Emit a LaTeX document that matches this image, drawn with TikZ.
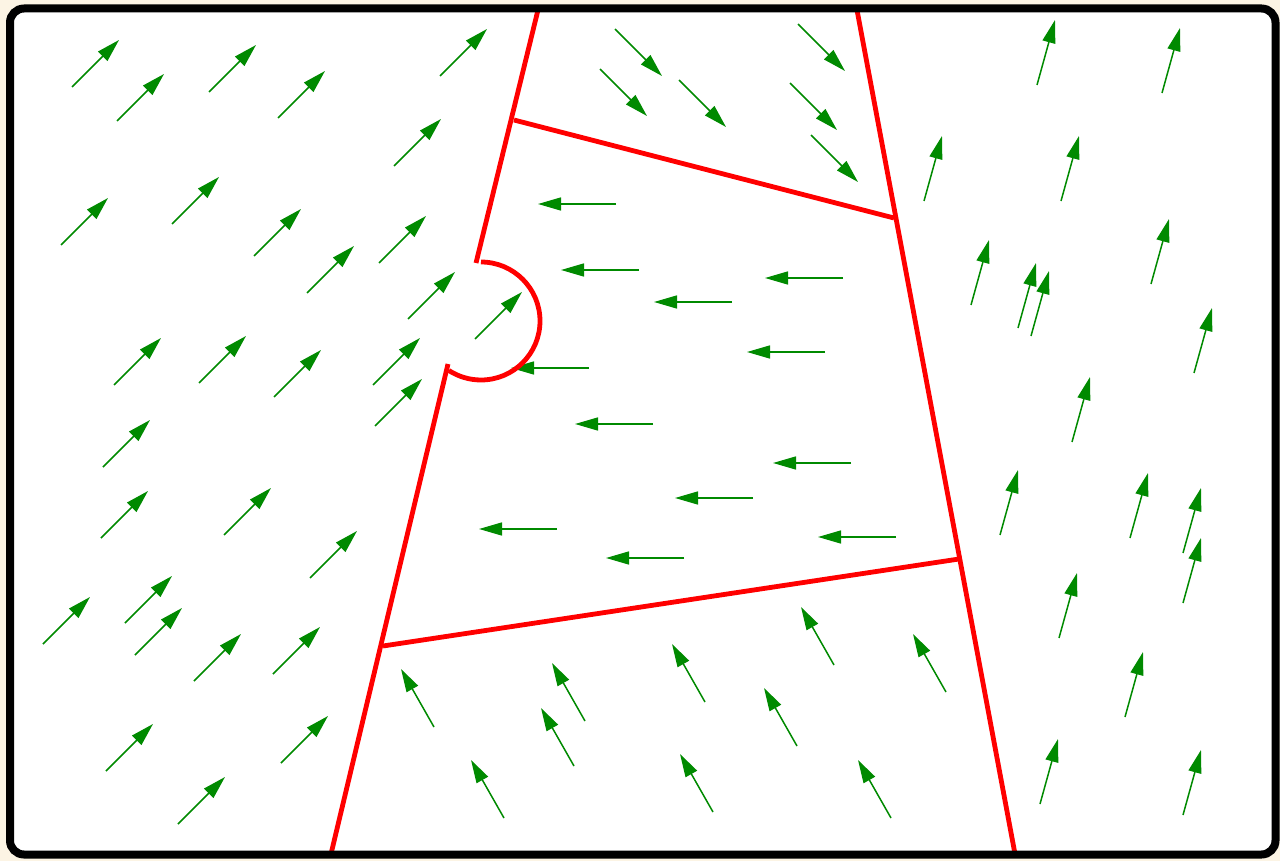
\documentclass[tikz,border=0pt]{standalone}
\usepackage{tikz}
\usetikzlibrary{arrows.meta}
\definecolor{vecgreen}{RGB}{0,138,0}
\definecolor{paper}{RGB}{252,244,228}

\begin{document}
\begin{tikzpicture}[x=0.5pt, y=-0.5pt,
    vec/.style={draw=vecgreen, line width=0.75pt, -{Triangle[length=11.5pt, width=6.5pt]}},
    fault/.style={draw=red, line width=2.4pt},
    frame/.style={draw=black, line width=4pt, rounded corners=7pt}]
  % page and panel
  \fill[paper] (0,0) rectangle (1280,861);
  \useasboundingbox (0,0) rectangle (1280,861);
  \fill[white, rounded corners=7pt] (10,8.5) rectangle (1275.5,854.5);
  % west block: moving north-east
  \foreach \x/\y in {72/87, 117/121, 209/92, 278/118, 440/76, 394/166,
                     61/245, 172/224, 254/256, 307/293, 379/263, 408/319, 475/339,
                     114/385, 199/383, 274/397, 373/385, 375/426, 103/467,
                     101/538, 224/535, 310/578, 43/644, 125/623, 135/655,
                     194/681, 273/674, 106/771, 281/763, 178/824}
    \draw[vec] (\x,\y) -- ++(47,-47);
  % northern wedge: moving south-east
  \foreach \x/\y in {615/29, 600/69, 679/80, 798/24, 790/83, 811/135}
    \draw[vec] (\x,\y) -- ++(47,47);
  % central block: moving west
  \foreach \x/\y in {616/204, 639/270, 732/302, 843/278, 825/352, 589/368,
                     653/424, 851/463, 753/498, 557/529, 684/558, 896/537}
    \draw[vec] (\x,\y) -- ++(-78,0);
  % southern block: moving north-north-west
  \foreach \x/\y in {434/727, 585/721, 705/702, 574/766, 504/818,
                     834/665, 946/692, 797/746, 713/812, 891/818}
    \draw[vec] (\x,\y) -- ++(-33,-58);
  % east block: moving north-north-east
  \foreach \x/\y in {1037/85, 1162/93, 924/201, 1061/201, 1151/284, 971/305,
                     1018/328, 1031/336, 1194/373, 1072/442, 1000/535, 1130/538,
                     1183/553, 1183/603, 1059/638, 1125/717, 1040/804, 1183/815}
    \draw[vec] (\x,\y) -- ++(18,-65);
  % faults
  \coordinate (wtop) at (538,10);
  \coordinate (wbot) at (331,854);
  \coordinate (etop) at (857,10);
  \coordinate (ebot) at (1015,854);
  \draw[fault] (wtop) -- (476,263);
  \draw[fault] (481,262) arc[start angle=-90, end angle=123, radius=59];
  \draw[fault] (448,364) -- (wbot);
  \draw[fault] (etop) -- (ebot);
  \draw[fault] (514,120) -- (894,218);
  \draw[fault] (383,646) -- (959,559);
  % border
  \draw[frame] (10,8.5) rectangle (1275.5,854.5);
\end{tikzpicture}
\end{document}
